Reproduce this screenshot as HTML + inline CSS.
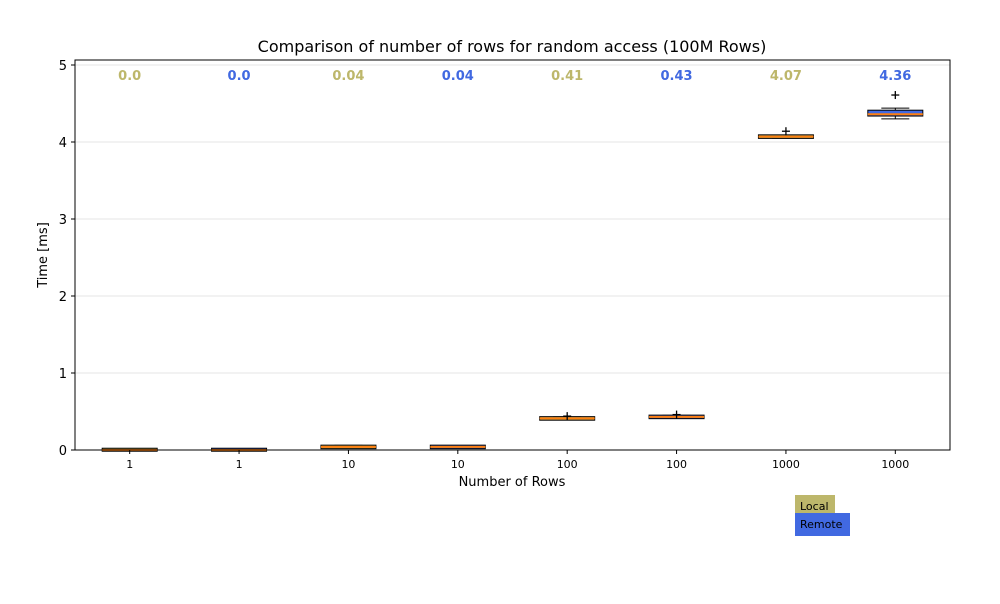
<!DOCTYPE html>
<html><head><meta charset="utf-8"><style>
body{margin:0;background:#fff;font-family:"DejaVu Sans",sans-serif}
</style></head><body>
<svg id="chart" width="1000" height="600" xmlns="http://www.w3.org/2000/svg" font-family="DejaVu Sans, sans-serif">
<rect width="1000" height="600" fill="#fff"/>
<text x="512" y="52" font-size="16" text-anchor="middle">Comparison of number of rows for random access (100M Rows)</text>
<g id="grid"></g><g id="boxes"></g><g id="axes"></g>
<text x="512" y="486" font-size="13" text-anchor="middle">Number of Rows</text>
<text transform="translate(47,255) rotate(-90)" font-size="13" text-anchor="middle">Time [ms]</text>
<g>
<rect x="795" y="495" width="40" height="22" fill="#bdb76b"/>
<text x="800" y="510" font-size="11">Local</text>
<rect x="795" y="513" width="55" height="23" fill="#4169e1"/>
<text x="800" y="528" font-size="11">Remote</text>
</g>
</svg>
<script>
const categories=["1","1","10","10","100","100","1000","1000"];
const series=["local","remote","local","remote","local","remote","local","remote"];
const medians=[0.0,0.0,0.04,0.04,0.41,0.43,4.07,4.36];
const q1s=[0.0,0.0,0.03,0.03,0.40,0.42,4.06,4.35];
const q3s=[0.01,0.01,0.05,0.05,0.42,0.44,4.08,4.40];
const whiskLo=[0.0,0.0,0.03,0.03,0.39,0.42,4.05,4.30];
const whiskHi=[0.01,0.01,0.06,0.05,0.43,0.45,4.08,4.44];
const outliers=[null,null,null,null,0.44,0.46,4.14,4.61];
const labels=["0.0","0.0","0.04","0.04","0.41","0.43","4.07","4.36"];
const yTicks=[0,1,2,3,4,5];
const colors={local:"#bdb76b",remote:"#4169e1"};
const L=75,R=950,T=60,B=450;
const y=v=>B-v*77;
const bw=(R-L)/categories.length;
const x=i=>L+bw*(i+0.5);
const NS="http://www.w3.org/2000/svg";
function mk(p,t,a){const e=document.createElementNS(NS,t);for(const k in a)e.setAttribute(k,a[k]);document.getElementById(p).appendChild(e);return e;}
yTicks.forEach(t=>{
 const g=mk('grid','line',{x1:L,x2:R,y1:y(t),y2:y(t),stroke:'#e6e6e6'});
 
 
 mk('axes','line',{x1:L-4,x2:L,y1:y(t),y2:y(t),stroke:'#000'});
 const tx=mk('axes','text',{x:L-8,y:y(t)+5,'font-size':13,'text-anchor':'end'});tx.textContent=t;
 
 
});
const fr=mk('axes','rect',{x:L,y:T,width:R-L,height:B-T,fill:'none',stroke:'#000'});


categories.forEach((c,i)=>{
 const cx=x(i),hw=27.5,c2=colors[series[i]];
 mk('axes','line',{x1:cx,x2:cx,y1:B,y2:B+4,stroke:'#000'});
 const tl=mk('axes','text',{x:cx,y:B+18,'font-size':11,'text-anchor':'middle'});tl.textContent=c;
 
 
 const g=document.createElementNS(NS,'g');document.getElementById('boxes').appendChild(g);
 
 
 const add=(t,a)=>{const e=document.createElementNS(NS,t);for(const k in a)e.setAttribute(k,a[k]);g.appendChild(e);};
 add('line',{x1:cx,x2:cx,y1:y(whiskLo[i]),y2:y(whiskHi[i]),stroke:'#000'});
 add('line',{x1:cx-14,x2:cx+14,y1:y(whiskLo[i]),y2:y(whiskLo[i]),stroke:'#000'});
 add('line',{x1:cx-14,x2:cx+14,y1:y(whiskHi[i]),y2:y(whiskHi[i]),stroke:'#000'});
 const top=y(q3s[i]),bot=y(q1s[i]);
 add('rect',{x:cx-hw,y:top-1,width:2*hw,height:Math.max(bot-top,1)+2,fill:c2,stroke:'#000','stroke-width':1});
 add('line',{x1:cx-hw,x2:cx+hw,y1:y(medians[i]),y2:y(medians[i]),stroke:'#ff7f0e','stroke-width':2});
 if(outliers[i]!==null){const oy=y(outliers[i]);
  add('line',{x1:cx-4,x2:cx+4,y1:oy,y2:oy,stroke:'#000','stroke-width':1.3});
  add('line',{x1:cx,x2:cx,y1:oy-4,y2:oy+4,stroke:'#000','stroke-width':1.3});}
 const lb=mk('boxes','text',{x:cx,y:80,'font-size':13,'font-weight':'bold','text-anchor':'middle',fill:c2});lb.textContent=labels[i];
 
 
});
</script>
</body></html>
